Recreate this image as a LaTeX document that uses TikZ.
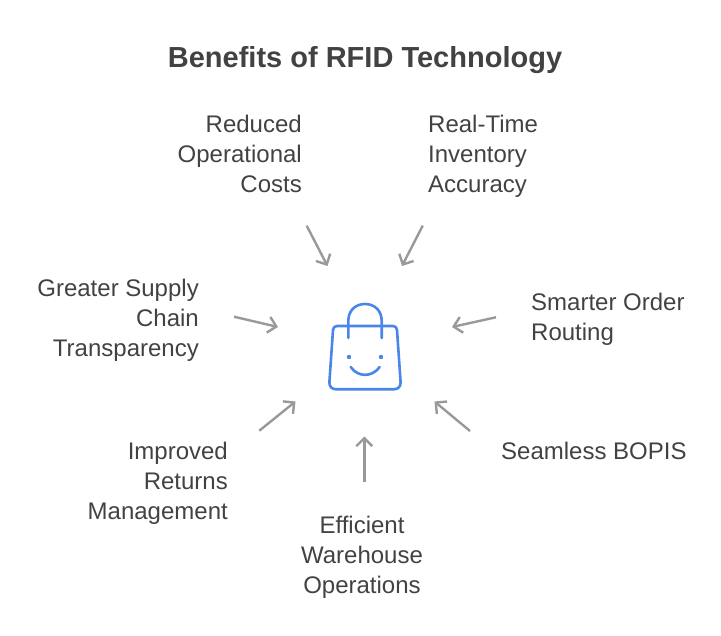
\documentclass[tikz,border=0pt]{standalone}
\usepackage{fontspec}
\setmainfont{Liberation Sans}
\usepackage{tikz}
\usetikzlibrary{arrows.meta,positioning}
\definecolor{labelgray}{HTML}{424242}
\definecolor{arrowgray}{HTML}{999999}
\definecolor{bagblue}{HTML}{4A86E8}

\begin{document}
\begin{tikzpicture}[
    x=1pt,y=-1pt,
    title/.style={
        inner sep=0pt,
        text=labelgray,
        font=\fontsize{29}{34}\selectfont\bfseries
        },
    benefit/.style={
        inner sep=0pt,
        text=labelgray,
        font=\fontsize{24}{29.8}\selectfont
        },
    benefitl/.style={benefit,anchor=west,align=left},
    benefitr/.style={benefit,anchor=east,align=right},
    benefitc/.style={benefit,anchor=center,align=center},
    pointer/.style={
        draw=arrowgray,
        line width=2.4pt,
        -{Straight Barb[length=8pt,width=16pt,line width=2.4pt]}
        },
    bag/.style={
        draw=bagblue,
        line width=2.6pt,
        line cap=round,
        line join=round
        },
  ]
  \useasboundingbox (0,0) rectangle (721,636);
  % Title
  \node[title] (heading) at (365,60.5) {Benefits of RFID Technology};
  % Benefits
  \node[benefitr] (costs) at (302,154) {Reduced\\Operational\\Costs};
  \node[benefitl] (accuracy) at (428,156) {Real-Time\\Inventory\\Accuracy};
  \node[benefitl] (routing) at (531,319.5) {Smarter Order\\Routing};
  \node[benefitl] (bopis) at (501,451) {Seamless BOPIS};
  \node[benefitc] (warehouse) at (362,557) {Efficient\\Warehouse\\Operations};
  \node[benefitr] (returns) at (228,483.5) {Improved\\Returns\\Management};
  \node[benefitr] (supply) at (199,320) {Greater Supply\\Chain\\Transparency};
  % Arrow ends
  \coordinate (costsfrom) at (306.7,225.7);
  \coordinate (coststo) at (327.5,266);
  \coordinate (accuracyfrom) at (422.7,225.7);
  \coordinate (accuracyto) at (402,266);
  \coordinate (routingfrom) at (496,317.3);
  \coordinate (routingto) at (452,327);
  \coordinate (bopisfrom) at (470,431);
  \coordinate (bopisto) at (434.5,401.5);
  \coordinate (warehousefrom) at (364.3,481.7);
  \coordinate (warehouseto) at (364.3,436.5);
  \coordinate (returnsfrom) at (259.3,430.7);
  \coordinate (returnsto) at (295.5,401.5);
  \coordinate (supplyfrom) at (234,316.7);
  \coordinate (supplyto) at (278,327);
  % Arrows
  \draw[pointer] (costsfrom) -- (coststo);
  \draw[pointer] (accuracyfrom) -- (accuracyto);
  \draw[pointer] (routingfrom) -- (routingto);
  \draw[pointer] (bopisfrom) -- (bopisto);
  \draw[pointer] (warehousefrom) -- (warehouseto);
  \draw[pointer] (returnsfrom) -- (returnsto);
  \draw[pointer] (supplyfrom) -- (supplyto);
  % Bag
  \draw[bag] (337,326) -- (393,326)
    .. controls (395.5,326) and (396.8,327.5) .. (397,330)
    -- (400.6,382)
    .. controls (401,386.5) and (398,389.3) .. (394,389.3)
    -- (336,389.3)
    .. controls (332,389.3) and (329,386.5) .. (329.4,382)
    -- (333,330)
    .. controls (333.2,327.5) and (334.5,326) .. (337,326) -- cycle;
  \draw[bag] (348.3,338) -- (348.3,321)
    .. controls (348.3,311) and (355,304) .. (365,304)
    .. controls (375,304) and (381.7,311) .. (381.7,321)
    -- (381.7,338);
  \fill[bagblue] (349,357) circle (2.2pt);
  \fill[bagblue] (381,357) circle (2.2pt);
  \draw[bag] (350.7,367) .. controls (358,377.5) and (372,377.5) .. (379.7,367);
\end{tikzpicture}
\end{document}
